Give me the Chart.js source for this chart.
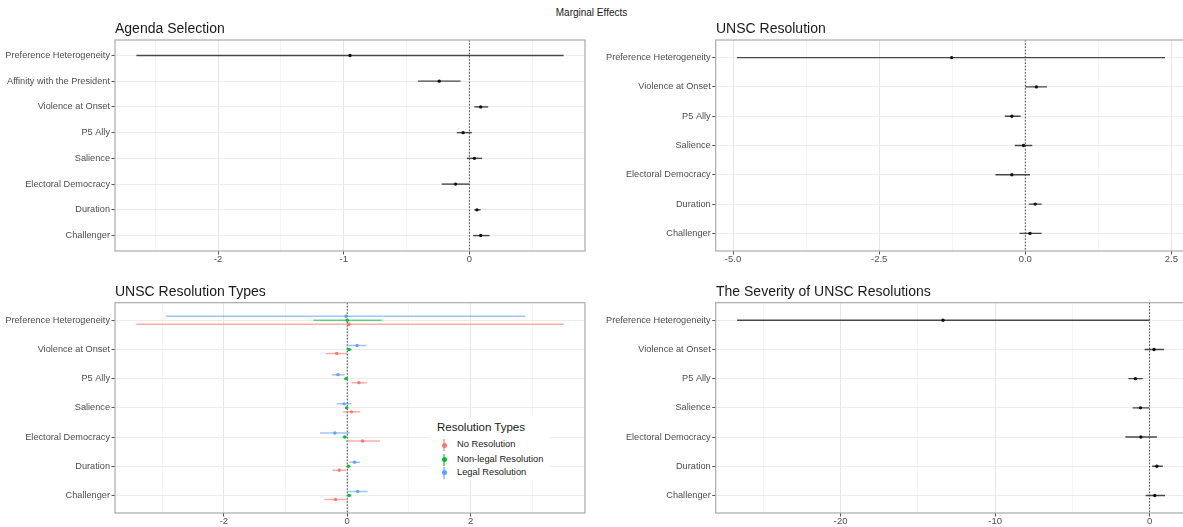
<!DOCTYPE html>
<html>
<head>
<meta charset="utf-8">
<title>Marginal Effects</title>
<script src="https://cdn.jsdelivr.net/npm/chart.js@4/dist/chart.umd.min.js"></script>
<style>
  html, body { margin: 0; padding: 0; background: #fff; }
  body { position: relative; width: 1183px; height: 527px; overflow: hidden;
         font-family: "Liberation Sans", Arial, Helvetica, sans-serif; }
  canvas { position: absolute; }
  .txt { position: absolute; white-space: nowrap; line-height: 1; color: #1a1a1a; }
  .ptitle { font-size: 14px; }
  #sup { left: 0; width: 1183px; text-align: center; font-size: 10px; }
  #legend { position: absolute; left: 429px; top: 417px; width: 121px; height: 64px; background: #fff; }
  .lg-title { font-size: 11.5px; }
  .lg-item { font-size: 9.3px; color: #1a1a1a; }
  .glyph { position: absolute; width: 14px; height: 12px; }
  .glyph .bar { position: absolute; left: 6.3px; top: 0; width: 1.4px; height: 12px; }
  .glyph .dot { position: absolute; left: 4.5px; top: 3.5px; width: 5px; height: 5px; border-radius: 50%; }
</style>
</head>
<body>

<canvas id="agenda" width="590" height="243" style="left:0px; top:30px;"></canvas>
<canvas id="resolution" width="600" height="243" style="left:590px; top:30px;"></canvas>
<canvas id="types" width="590" height="243" style="left:0px; top:292px;"></canvas>
<canvas id="severity" width="600" height="243" style="left:590px; top:292px;"></canvas>

<div id="sup" class="txt" style="top:7.5px;">Marginal Effects</div>
<div class="txt ptitle" style="left:115px; top:21.4px;">Agenda Selection</div>
<div class="txt ptitle" style="left:716px; top:21.4px;">UNSC Resolution</div>
<div class="txt ptitle" style="left:115px; top:284.1px;">UNSC Resolution Types</div>
<div class="txt ptitle" style="left:716px; top:284.1px;">The Severity of UNSC Resolutions</div>

<div id="legend"></div>

<script>
// ---- Categories ----
const agendaLabels = ['Preference Heterogeneity', 'Affinity with the President', 'Violence at Onset',
  'P5 Ally', 'Salience', 'Electoral Democracy', 'Duration', 'Challenger'];
const resolutionLabels = ['Preference Heterogeneity', 'Violence at Onset', 'P5 Ally', 'Salience',
  'Electoral Democracy', 'Duration', 'Challenger'];

// ---- Agenda selection: estimate, lower and upper bound ----
const agendaEst  = [-0.95, -0.24, 0.09, -0.05, 0.04, -0.11, 0.06, 0.09];
const agendaLow  = [-2.65, -0.41, 0.04, -0.10, -0.02, -0.22, 0.04, 0.03];
const agendaHigh = [ 0.75, -0.07, 0.15,  0.02,  0.10,  0.00, 0.09, 0.16];
const agendaTicks = [-2, -1, 0];
const agendaTickLabels = ['-2', '-1', '0'];

// ---- UNSC resolution ----
const resolutionEst  = [-1.26, 0.19, -0.23, -0.03, -0.23, 0.17, 0.08];
const resolutionLow  = [-4.93, 0.00, -0.35, -0.18, -0.51, 0.06, -0.10];
const resolutionHigh = [ 2.39, 0.37, -0.08,  0.12,  0.08, 0.28,  0.28];
const resolutionTicks = [-5, -2.5, 0, 2.5];
const resolutionTickLabels = ['-5.0', '-2.5', '0.0', '2.5'];

// ---- UNSC resolution types ----
const typeNames  = ['No Resolution', 'Non-legal Resolution', 'Legal Resolution'];
const typeColors = ['248,118,109', '0,186,56', '97,156,255'];
const noResEst  = [ 0.03, -0.17, 0.19,  0.07,  0.25, -0.13, -0.19];
const noResLow  = [-3.42, -0.35, 0.07, -0.07, -0.02, -0.24, -0.37];
const noResHigh = [ 3.51,  0.00, 0.32,  0.21,  0.53, -0.02,  0.00];
const nonLegalEst  = [ 0.00,  0.03, -0.02, -0.01, -0.04, 0.02, 0.03];
const nonLegalLow  = [-0.55, -0.01, -0.05, -0.02, -0.08, 0.00, 0.00];
const nonLegalHigh = [ 0.56,  0.07,  0.01,  0.02,  0.00, 0.05, 0.07];
const legalEst  = [-0.02, 0.16, -0.15, -0.05, -0.20, 0.12, 0.17];
const legalLow  = [-2.94, 0.01, -0.25, -0.17, -0.44, 0.03, 0.01];
const legalHigh = [ 2.89, 0.31, -0.04,  0.07,  0.04, 0.21, 0.33];
const typeTicks = [-2, 0, 2];
const typeTickLabels = ['-2', '0', '2'];

// ---- Severity of UNSC resolutions ----
const severityEst  = [-13.37, 0.29, -0.91, -0.59, -0.56, 0.47, 0.34];
const severityLow  = [-26.70, -0.32, -1.37, -1.10, -1.57, 0.17, -0.25];
const severityHigh = [  0.00, 0.93, -0.44, -0.02, 0.47, 0.86, 1.00];
const severityTicks = [-20, -10, 0];
const severityTickLabels = ['-20', '-10', '0'];

Chart.defaults.font.family = '"Liberation Sans", Arial, Helvetica, sans-serif';

// x range: data range (with the zero reference line) widened by 5% each side
function expandRange(lows, highs) {
  const lo = Math.min(0, ...lows.flat());
  const hi = Math.max(0, ...highs.flat());
  const pad = (hi - lo) * 0.05;
  return [lo - pad, hi + pad];
}

// minor grid values halfway between the major breaks
function minorBreaks(major, lo, hi) {
  const step = major[1] - major[0];
  const out = [];
  for (let v = major[0] - step / 2; v <= hi; v += step) {
    if (v >= lo && !major.includes(v)) out.push(v);
  }
  return out;
}

const panelBox = {
  id: 'panelBox',
  afterDatasetsDraw(chart) {
    const a = chart.chartArea, c = chart.ctx;
    c.save();
    c.strokeStyle = '#ababab';
    c.lineWidth = 1.2;
    c.strokeRect(a.left, a.top, a.right - a.left, a.bottom - a.top);
    c.restore();
  }
};

function buildPanel(canvasId, labels, series, major, majorLabels, cfg) {
  const [xMin, xMax] = expandRange(series.map(s => s.low), series.map(s => s.high));
  const minor = minorBreaks(major, xMin, xMax);
  const xTicks = [...minor, ...major].sort((a, b) => a - b);
  const yMin = -0.6, yMax = labels.length - 0.4;

  const datasets = [];
  // points first so they sit above the interval lines
  series.forEach(s => {
    datasets.push({
      type: 'scatter',
      data: s.est.map((v, i) => ({ x: v, y: i + s.offset })),
      pointRadius: s.pointRadius, pointHoverRadius: s.pointRadius,
      pointBackgroundColor: s.pointColor, pointBorderWidth: 0,
      showLine: false
    });
  });
  series.forEach(s => {
    s.low.forEach((lo, i) => {
      datasets.push({
        type: 'scatter',
        data: [{ x: lo, y: i + s.offset }, { x: s.high[i], y: i + s.offset }],
        showLine: true, borderColor: s.lineColor, borderWidth: s.lineWidth,
        pointRadius: 0, pointHoverRadius: 0, borderCapStyle: 'butt'
      });
    });
  });
  // dotted reference line at zero, drawn beneath everything else
  datasets.push({
    type: 'scatter',
    data: [{ x: 0, y: yMin }, { x: 0, y: yMax }],
    showLine: true, borderColor: '#3a3a3a', borderWidth: 0.9, borderDash: [1.6, 1.6],
    pointRadius: 0, pointHoverRadius: 0
  });

  const isMajor = v => major.includes(v);

  return new Chart(document.getElementById(canvasId), {
    type: 'scatter',
    data: { datasets },
    options: {
      responsive: false, animation: false, devicePixelRatio: 1,
      events: [],
      layout: { padding: { top: cfg.padTop, right: cfg.padRight, left: 0, bottom: 0 } },
      plugins: { legend: { display: false }, tooltip: { enabled: false }, title: { display: false } },
      scales: {
        x: {
          type: 'linear', min: xMin, max: xMax,
          afterBuildTicks: sc => { sc.ticks = xTicks.map(v => ({ value: v })); },
          afterFit: sc => { sc.height = 22; },
          border: { display: false },
          grid: {
            color: ctx => (ctx.tick && isMajor(ctx.tick.value)) ? '#e6e6e6' : '#f3f3f3',
            lineWidth: ctx => (ctx.tick && isMajor(ctx.tick.value)) ? 1 : 0.8,
            tickColor: ctx => (ctx.tick && isMajor(ctx.tick.value)) ? '#555555' : 'rgba(0,0,0,0)',
            tickLength: 3.5, drawTicks: true
          },
          ticks: {
            autoSkip: false, maxRotation: 0, minRotation: 0, padding: 0.5,
            color: '#4d4d4d', font: { size: 9.5, lineHeight: 1 },
            callback: v => { const k = major.indexOf(v); return k >= 0 ? majorLabels[k] : ''; }
          }
        },
        y: {
          type: 'linear', reverse: true, min: yMin, max: yMax,
          afterBuildTicks: sc => { sc.ticks = labels.map((_, i) => ({ value: i })); },
          afterFit: sc => { sc.width = cfg.yWidth; },
          border: { display: false },
          grid: { color: '#ececec', lineWidth: 1, tickColor: '#555555', tickLength: 3.5, drawTicks: true },
          ticks: {
            autoSkip: false, padding: 1.5, color: '#4d4d4d', font: { size: 9.2 },
            callback: v => labels[v]
          }
        }
      }
    },
    plugins: [panelBox]
  });
}

const blackSeries = (est, low, high) => [{
  est, low, high, offset: 0,
  pointColor: '#111111', pointRadius: 1.7,
  lineColor: '#474747', lineWidth: 1.4
}];

buildPanel('agenda', agendaLabels, blackSeries(agendaEst, agendaLow, agendaHigh),
  agendaTicks, agendaTickLabels, { padTop: 10, padRight: 5, yWidth: 115 });

buildPanel('resolution', resolutionLabels, blackSeries(resolutionEst, resolutionLow, resolutionHigh),
  resolutionTicks, resolutionTickLabels, { padTop: 10, padRight: 3.6, yWidth: 125.7 });

// dodged: legal above, non-legal centred, no resolution below
const typeEst  = [noResEst, nonLegalEst, legalEst];
const typeLow  = [noResLow, nonLegalLow, legalLow];
const typeHigh = [noResHigh, nonLegalHigh, legalHigh];
const typeOffsets = [0.137, 0, -0.137];
const typeSeries = typeNames.map((name, k) => ({
  est: typeEst[k], low: typeLow[k], high: typeHigh[k], offset: typeOffsets[k],
  pointColor: 'rgba(' + typeColors[k] + ',0.95)', pointRadius: 1.7,
  lineColor: 'rgba(' + typeColors[k] + ',0.6)', lineWidth: 1.5
}));
buildPanel('types', resolutionLabels, typeSeries,
  typeTicks, typeTickLabels, { padTop: 10.7, padRight: 5, yWidth: 115 });

buildPanel('severity', resolutionLabels, blackSeries(severityEst, severityLow, severityHigh),
  severityTicks, severityTickLabels, { padTop: 10.7, padRight: 3.6, yWidth: 125.7 });

// legend for the resolution types panel
(function () {
  const box = document.getElementById('legend');
  const ox = 429, oy = 417;
  const t = document.createElement('div');
  t.className = 'txt lg-title';
  t.textContent = 'Resolution Types';
  t.style.left = (437 - ox) + 'px';
  t.style.top = (422.3 - oy) + 'px';
  box.appendChild(t);
  const rowCentres = [445, 459.5, 472.5];
  typeNames.forEach((name, k) => {
    const g = document.createElement('div');
    g.className = 'glyph';
    g.style.left = (444 - 7 - ox) + 'px';
    g.style.top = (rowCentres[k] - 6 - oy) + 'px';
    g.innerHTML = '<div class="bar" style="background:rgba(' + typeColors[k] + ',0.55)"></div>' +
                  '<div class="dot" style="background:rgb(' + typeColors[k] + ')"></div>';
    box.appendChild(g);
    const s = document.createElement('div');
    s.className = 'txt lg-item';
    s.textContent = name;
    s.style.left = (457 - ox) + 'px';
    s.style.top = (rowCentres[k] + 3.3 - 7.87 - oy) + 'px';
    box.appendChild(s);
  });
})();
</script>
</body>
</html>
